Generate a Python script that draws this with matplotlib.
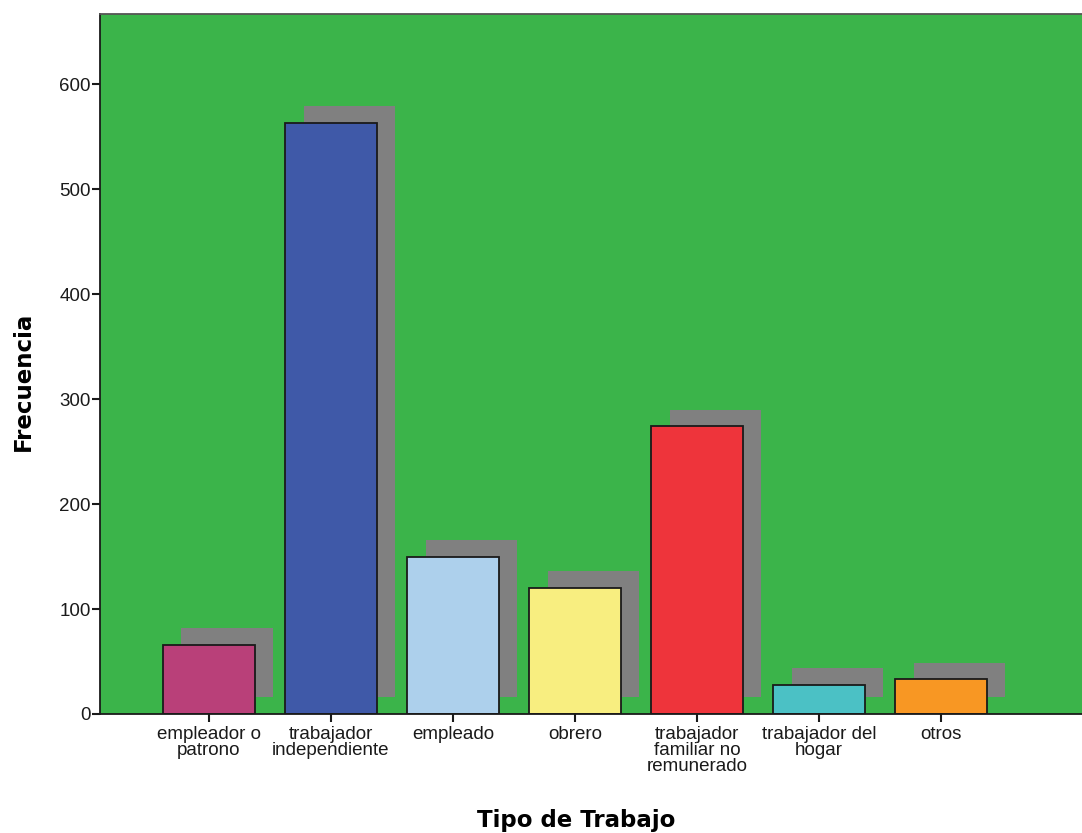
import matplotlib.pyplot as plt
import numpy as np

categories = ['empleador o\npatrono', 'trabajador\nindependiente', 'empleado', 'obrero',
              'trabajador\nfamiliar no\nremunerado', 'trabajador del\nhogar', 'otros']
frecuencia = [66, 563, 150, 120, 274, 28, 33]
bar_colors = ['#B94079', '#3F59A8', '#ADD0EC', '#F8EE80', '#EE343B', '#4BC1C5', '#F89723']

plt.rcParams['font.family'] = ['Liberation Sans', 'DejaVu Sans']

fig = plt.figure(figsize=(10.82, 8.33), dpi=100)
ax = fig.add_axes([100 / 1082, 119 / 833, 982 / 1082, 700 / 833])
ax.set_facecolor('#3BB44A')

x = np.arange(len(categories))
width = 0.75
# drop shadow behind each bar (shifted right and up)
ax.bar(x + 0.15, frecuencia, width=width, bottom=16, color='#808080', zorder=1)
ax.bar(x, frecuencia, width=width, color=bar_colors, edgecolor='#1a1a1a', linewidth=1.3, zorder=2)

ax.set_xlim(-0.893, 7.156)
ax.set_ylim(0, 667)
ax.set_yticks([0, 100, 200, 300, 400, 500, 600])
ax.set_xticks(x)
ax.set_xticklabels(categories, fontsize=13.5, linespacing=0.9)
ax.tick_params(axis='both', direction='out', length=5.8, width=1.5, colors='#1a1a1a', labelsize=13.5)
ax.tick_params(axis='y', pad=1)
ax.tick_params(axis='x', pad=3)

for side in ['left', 'bottom']:
    ax.spines[side].set_color('#1a1a1a')
    ax.spines[side].set_linewidth(1.3)
ax.spines['top'].set_color('#555555')
ax.spines['top'].set_linewidth(1.3)
ax.spines['right'].set_visible(False)

ax.set_ylabel('Frecuencia', fontsize=16.5, fontweight='bold', family='DejaVu Sans')
ax.set_xlabel('Tipo de Trabajo', fontsize=16.5, fontweight='bold', family='DejaVu Sans')
ax.yaxis.set_label_coords(-77 / 982, (714 - 381) / 700)
ax.xaxis.set_label_coords((576 - 100) / 982, -(820 - 714) / 700)
ax.yaxis.label.set_verticalalignment('center')
ax.xaxis.label.set_verticalalignment('center')

fig.savefig('out.png', dpi=100)
